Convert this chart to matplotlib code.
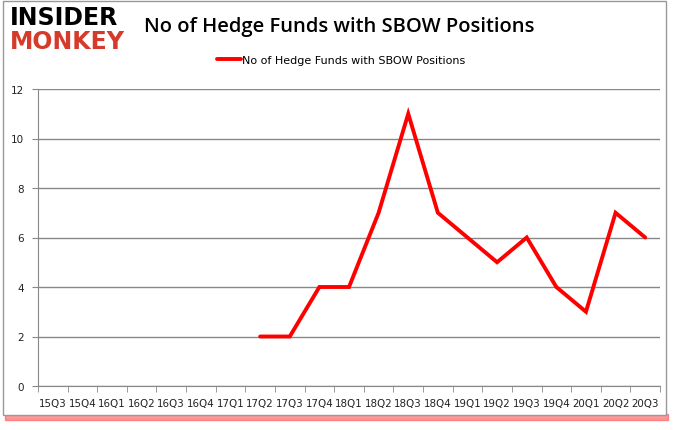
import matplotlib.pyplot as plt
from matplotlib.patches import Rectangle

quarters = ["15Q3", "15Q4", "16Q1", "16Q2", "16Q3", "16Q4", "17Q1", "17Q2", "17Q3",
            "17Q4", "18Q1", "18Q2", "18Q3", "18Q4", "19Q1", "19Q2", "19Q3", "19Q4",
            "20Q1", "20Q2", "20Q3"]
data_quarters = ["17Q2", "17Q3", "17Q4", "18Q1", "18Q2", "18Q3", "18Q4", "19Q1",
                 "19Q2", "19Q3", "19Q4", "20Q1", "20Q2", "20Q3"]
funds = [2, 2, 4, 4, 7, 11, 7, 6, 5, 6, 4, 3, 7, 6]

series_label = "No of Hedge Funds with SBOW Positions"
title = "No of Hedge Funds with SBOW Positions"

fig = plt.figure(figsize=(6.78, 4.31), dpi=100)
W, H = 678, 431

# figure frame with red bottom shadow (drawn first, behind everything)
fig.patches.append(Rectangle((5 / W, 1 - 421 / H), 663 / W, 6 / H, transform=fig.transFigure,
                             color="#ff5050", alpha=0.6, zorder=-2))
fig.patches.append(Rectangle((3 / W, 1 - 416 / H), 663 / W, 414 / H, transform=fig.transFigure,
                             facecolor="white", edgecolor="#999999", lw=1, zorder=-1))

# plot area in pixel terms
x0, x1, ytop, ybot = 38, 660, 90, 387
ax = fig.add_axes([x0 / W, 1 - ybot / H, (x1 - x0) / W, (ybot - ytop) / H])
ax.set_zorder(2)
ax.patch.set_alpha(0)

xs = [quarters.index(q) for q in data_quarters]
line, = ax.plot(xs, funds, color="#ff0000", lw=2.8, solid_capstyle="round",
                solid_joinstyle="miter", label=series_label, zorder=3)

ax.set_xlim(-0.5, len(quarters) - 0.5)
ax.set_ylim(0, 12)
ax.set_yticks(range(0, 13, 2))
ax.set_xticks(range(len(quarters)))
ax.set_xticklabels(quarters)
ax.set_xticks([i - 0.5 for i in range(len(quarters) + 1)], minor=True)
ax.tick_params(axis="x", which="major", length=0, pad=9, labelsize=7.4, colors="#222222")
ax.tick_params(axis="x", which="minor", length=4, color="#888888")
ax.tick_params(axis="y", length=4, color="#888888", labelsize=7.5, colors="#222222", pad=6)
ax.grid(axis="y", color="#888888", lw=1)
ax.set_axisbelow(True)
for side in ["top", "right"]:
    ax.spines[side].set_visible(False)
for side in ["left", "bottom"]:
    ax.spines[side].set_color("#888888")

# title and legend
fig.text(339 / W, 1 - 27 / H, title, ha="center", va="center", fontsize=14.5,
         family="Open Sans", weight="semibold", color="black")
fig.legend(handles=[line], loc="center", bbox_to_anchor=(341 / W, 1 - 61 / H),
           frameon=False, fontsize=8, handlelength=2.2, handletextpad=0.1)

# logo
fig.text(10 / W, 1 - 18 / H, "INSIDER", ha="left", va="center", fontsize=17,
         weight="heavy", color="black", family="DejaVu Sans")
fig.text(10 / W, 1 - 42 / H, "MONKEY", ha="left", va="center", fontsize=17,
         weight="heavy", color="#d63a2a", family="DejaVu Sans")

fig.savefig("out.png", dpi=100)
